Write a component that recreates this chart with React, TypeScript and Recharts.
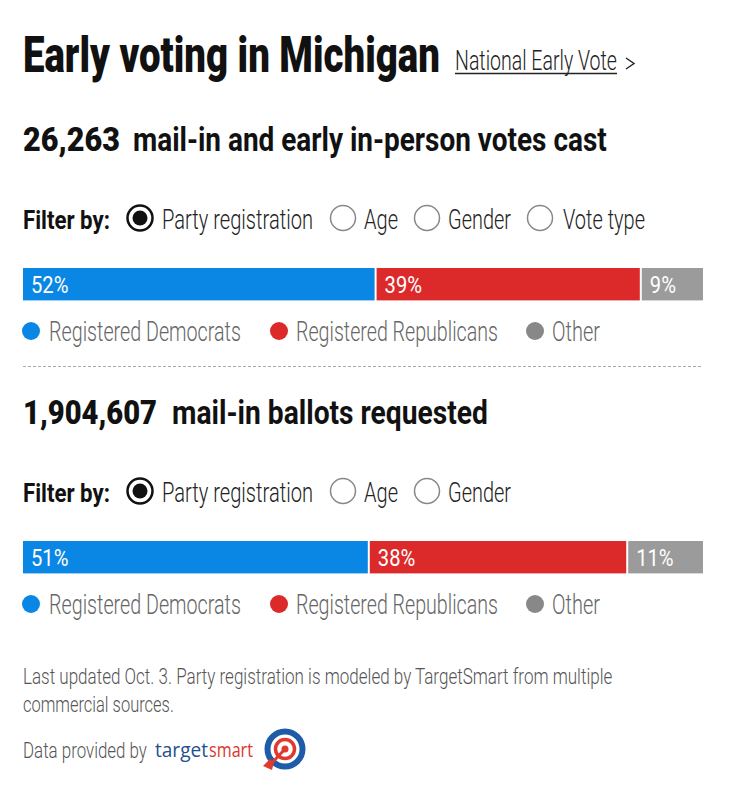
import React from "react";
import { BarChart, Bar, XAxis, YAxis, LabelList } from "recharts";

const SEGMENT_KEYS = ["dem", "rep", "other"];
const SEGMENT_NAMES = ["Registered Democrats", "Registered Republicans", "Other"];
const SEGMENT_COLORS = ["#0a87e4", "#dc2a2b", "#9b9b9b"];
const LEGEND_DOT_COLORS = ["#0a87e4", "#dc2a2b", "#888888"];

const VOTES_CAST_PCT = [52, 39, 9];
const BALLOTS_REQUESTED_PCT = [51, 38, 11];

const VOTES_CAST_TOTAL = "26,263";
const BALLOTS_REQUESTED_TOTAL = "1,904,607";

const FILTERS_CAST = ["Party registration", "Age", "Gender", "Vote type"];
const FILTERS_REQUESTED = ["Party registration", "Age", "Gender"];

const FONT = "Roboto";
const BAR_W = 680;
const BAR_H = 36;

// measured text widths (the original face is a condensed one, so we squeeze to fit)
const FILTER_X = [162, 364, 448, 563];
const FILTER_W = [151, 34, 63, 82];
const RADIO_X = [140, 343, 427, 540];
const LEGEND_DOT_X = [31, 279, 535];
const LEGEND_TEXT_X = [49, 296, 552];
const LEGEND_TEXT_W = [192, 202, 48];

let ctx: CanvasRenderingContext2D | null = null;
const measure = (s: string, weight: number, size: number, family: string) => {
  if (!ctx) ctx = document.createElement("canvas").getContext("2d");
  if (!ctx) return s.length * size * 0.5;
  ctx.font = `${weight} ${size}px ${family}`;
  return ctx.measureText(s).width;
};

// condensed text: squeezes horizontally to a target width (w) or by a fixed factor (sx)
function Cond({ x, y, w, sx, size, weight = 400, fill = "#111", family = FONT, children }: any) {
  const s = String(children);
  const scale = w ? w / measure(s, weight, size, family) : sx || 1;
  return (
    <text
      transform={`translate(${x},${y}) scale(${scale},1)`}
      fontFamily={family}
      fontWeight={weight}
      fontSize={size}
      fill={fill}
    >
      {s}
    </text>
  );
}

const toRow = (vals: number[]) => {
  const row: any = { name: "share" };
  SEGMENT_KEYS.forEach((k, i) => (row[k] = vals[i]));
  return [row];
};

const pctLabel = (props: any) => {
  const { x, y, height, value } = props;
  return (
    <Cond x={x + 8} y={y + height / 2 + 8.5} sx={0.84} size={24} fill="#fff">
      {`${value}%`}
    </Cond>
  );
};

const gapShape = (gap: number) => (props: any) => {
  const { x, y, width, height, fill } = props;
  return <rect x={x} y={y} width={Math.max(0, width - gap)} height={height} fill={fill} />;
};

function ShareBar({ values, top }: { values: number[]; top: number }) {
  return (
    <div style={{ position: "absolute", left: 23, top }}>
      <BarChart
        width={BAR_W}
        height={BAR_H}
        data={toRow(values)}
        layout="vertical"
        margin={{ top: 0, right: 0, bottom: 0, left: 0 }}
        barCategoryGap={0}
      >
        <XAxis type="number" domain={[0, 100]} hide />
        <YAxis type="category" dataKey="name" hide />
        {SEGMENT_KEYS.map((k, i) => (
          <Bar
            key={k}
            dataKey={k}
            stackId="s"
            fill={SEGMENT_COLORS[i]}
            barSize={BAR_H}
            isAnimationActive={false}
            shape={gapShape(i < SEGMENT_KEYS.length - 1 ? 2 : 0)}
          >
            <LabelList dataKey={k} content={pctLabel} />
          </Bar>
        ))}
      </BarChart>
    </div>
  );
}

function Section({ dy, total, totalW, rest, restX, restW, filters }: any) {
  const fy = 229 + dy;
  const ly = 331 + dy;
  return (
    <g>
      <Cond x={23} y={151 + dy} w={totalW} size={34} weight={900}>{total}</Cond>
      <Cond x={restX} y={151 + dy} w={restW} size={34} weight={700}>{rest}</Cond>

      <Cond x={23} y={fy} w={87} size={26} weight={700}>Filter by:</Cond>
      {filters.map((f: string, i: number) => (
        <g key={f}>
          <circle cx={RADIO_X[i]} cy={218 + dy} r={12.5} fill="#fff"
            stroke={i === 0 ? "#111" : "#888"} strokeWidth={i === 0 ? 2.5 : 1.5} />
          {i === 0 && <circle cx={RADIO_X[i]} cy={218 + dy} r={7.5} fill="#111" />}
          <Cond x={FILTER_X[i]} y={fy} w={FILTER_W[i]} size={27} weight={300} fill="#222">{f}</Cond>
        </g>
      ))}

      {SEGMENT_NAMES.map((n, i) => (
        <g key={n}>
          <circle cx={LEGEND_DOT_X[i]} cy={ly} r={9} fill={LEGEND_DOT_COLORS[i]} />
          <Cond x={LEGEND_TEXT_X[i]} y={ly + 9.5} w={LEGEND_TEXT_W[i]} size={27} weight={300} fill="#666">{n}</Cond>
        </g>
      ))}
    </g>
  );
}

export default function App() {
  return (
    <div style={{ position: "absolute", left: 0, top: 0, width: 735, height: 800, background: "#fff" }}>
      <svg width={735} height={800} style={{ position: "absolute", left: 0, top: 0 }}>
        <Cond x={23} y={72} w={417} size={50} weight={900}>Early voting in Michigan</Cond>
        <Cond x={455} y={70} w={162} size={27} weight={300} fill="#222">National Early Vote</Cond>
        <line x1={455} x2={617} y1={73.5} y2={73.5} stroke="#222" strokeWidth={1.3} />
        <polyline points="626,58 634,63.5 626,69" fill="none" stroke="#222" strokeWidth={1.4} />

        <Section dy={0} total={VOTES_CAST_TOTAL} totalW={97} rest="mail-in and early in-person votes cast"
          restX={133} restW={474} filters={FILTERS_CAST} />

        <line x1={23} x2={703} y1={366.5} y2={366.5} stroke="#aaa" strokeWidth={1} strokeDasharray="3 2" />

        <Section dy={273} total={BALLOTS_REQUESTED_TOTAL} totalW={134} rest="mail-in ballots requested"
          restX={172} restW={316} filters={FILTERS_REQUESTED} />

        <Cond x={23} y={684} w={590} size={22} weight={300} fill="#555">
          Last updated Oct. 3. Party registration is modeled by TargetSmart from multiple
        </Cond>
        <Cond x={23} y={712} w={151} size={22} weight={300} fill="#555">commercial sources.</Cond>
        <Cond x={23} y={758} w={124} size={22} weight={300} fill="#555">Data provided by</Cond>

        <Cond x={155} y={757} w={53} size={20} family="'Open Sans'" fill="#1f4f8f">target</Cond>
        <Cond x={209} y={757} w={44} size={20} family="'Open Sans'" fill="#d9372c">smart</Cond>
        <circle cx={285} cy={749} r={17.5} fill="#fff" stroke="#1e5ba8" strokeWidth={6} />
        <circle cx={285} cy={749} r={9.5} fill="none" stroke="#e03a2f" strokeWidth={3.5} />
        <circle cx={285} cy={749} r={3.5} fill="#e03a2f" />
        <line x1={271} y1={764} x2={284} y2={750} stroke="#e03a2f" strokeWidth={3} />
        <polygon points="263,766 270,759 274,762 272,770" fill="#e03a2f" />
      </svg>

      <ShareBar values={VOTES_CAST_PCT} top={266} />
      <ShareBar values={BALLOTS_REQUESTED_PCT} top={539} />
    </div>
  );
}
